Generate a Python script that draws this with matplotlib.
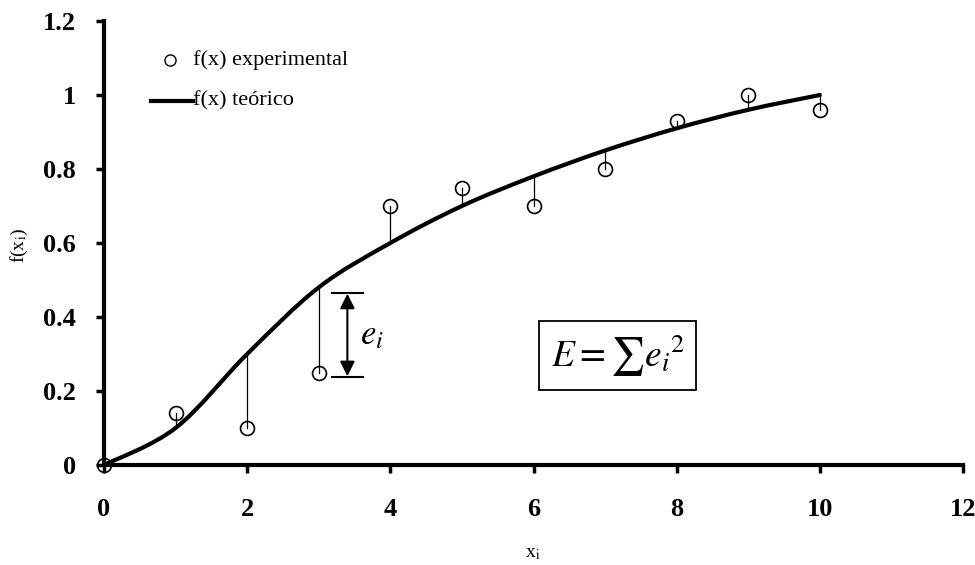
import numpy as np
import matplotlib
matplotlib.use('Agg')
import matplotlib.pyplot as plt
from matplotlib.path import Path
from matplotlib.patches import PathPatch

plt.rcParams['font.family'] = ['Liberation Serif', 'DejaVu Serif']
plt.rcParams['mathtext.fontset'] = 'stix'

x = [0, 1, 2, 3, 4, 5, 6, 7, 8, 9, 10]
f_exp = [0.0, 0.14, 0.10, 0.25, 0.70, 0.75, 0.70, 0.80, 0.93, 1.00, 0.96]
f_teo = [0.0, 0.10, 0.30, 0.48, 0.60, 0.70, 0.78, 0.85, 0.91, 0.96, 1.00]

xticks = [0, 2, 4, 6, 8, 10, 12]
yticks = [0, 0.2, 0.4, 0.6, 0.8, 1.0, 1.2]
yticklabels = ['0', '0.2', '0.4', '0.6', '0.8', '1', '1.2']


def smooth_path(px, py, t=1/6):
    # catmull-rom style bezier through the points (like a spreadsheet "smoothed line")
    pts = np.column_stack([px, py]).astype(float)
    verts = [pts[0]]
    codes = [Path.MOVETO]
    n = len(pts)
    for i in range(n - 1):
        p0 = pts[i - 1] if i > 0 else pts[i]
        p1 = pts[i]
        p2 = pts[i + 1]
        p3 = pts[i + 2] if i + 2 < n else pts[i + 1]
        c1 = p1 + (p2 - p0) * t
        c2 = p2 - (p3 - p1) * t
        verts += [c1, c2, p2]
        codes += [Path.CURVE4] * 3
    return Path(verts, codes)


fig = plt.figure(figsize=(9.75, 5.65), dpi=100)
ax = fig.add_axes([104 / 975, 100 / 565, 859 / 975, 444 / 565])
ax.set_xlim(0, 12)
ax.set_ylim(0, 1.2)

# residuals
for xi, fe, ft in zip(x, f_exp, f_teo):
    ax.plot([xi, xi], [fe, ft], color='black', lw=0.9, zorder=2)

curve = PathPatch(smooth_path(x, f_teo), facecolor='none', edgecolor='black',
                  lw=3.0, capstyle='round', zorder=3)
ax.add_patch(curve)
ax.plot(x, f_exp, 'o', mfc='none', mec='black', mew=1.2, ms=10, zorder=4,
        clip_on=False)

# e_i annotation
ax.plot([3.19, 3.62], [0.465, 0.465], color='black', lw=1.5)
ax.plot([3.19, 3.62], [0.238, 0.238], color='black', lw=1.5)
ax.annotate('', xy=(3.40, 0.240), xytext=(3.40, 0.463),
            arrowprops=dict(arrowstyle='<|-|>', color='black', lw=1.5,
                            mutation_scale=22, shrinkA=0, shrinkB=0))
ax.text(3.58, 0.35, r'$e_i$', fontsize=25, va='center', ha='left')

ax.text(7.18, 0.295, r'$E = \sum e_i{}^{2}$', fontsize=27, ha='center', va='center',
        bbox=dict(boxstyle='square,pad=0.3', fc='white', ec='black', lw=1.3))

# legend drawn by hand
ax.plot([0.92], [1.095], 'o', mfc='none', mec='black', mew=1.0, ms=8)
ax.text(1.25, 1.095, 'f(x) experimental', fontsize=16, va='center')
ax.plot([0.65, 1.24], [0.984, 0.984], color='black', lw=3)
ax.text(1.25, 0.984, 'f(x) teórico', fontsize=16, va='center')

for s in ['top', 'right']:
    ax.spines[s].set_visible(False)
for s in ['left', 'bottom']:
    ax.spines[s].set_linewidth(3)

ax.set_xticks(xticks)
ax.set_xticklabels([str(v) for v in xticks])
ax.set_yticks(yticks)
ax.set_yticklabels(yticklabels)
ax.tick_params(direction='out', length=6, width=2.5, labelsize=19)
ax.tick_params(axis='x', pad=18)
ax.tick_params(axis='y', pad=14)
for lab in ax.get_xticklabels() + ax.get_yticklabels():
    lab.set_fontweight('bold')

fig.text(19 / 975, 1 - 245 / 565, r'f(x$_{\rm i}$)', rotation=90, fontsize=14,
         ha='center', va='center')
fig.text(533 / 975, 1 - 553 / 565, r'x$_{\rm i}$', fontsize=14,
         ha='center', va='center')

fig.savefig('out.png', dpi=100)
